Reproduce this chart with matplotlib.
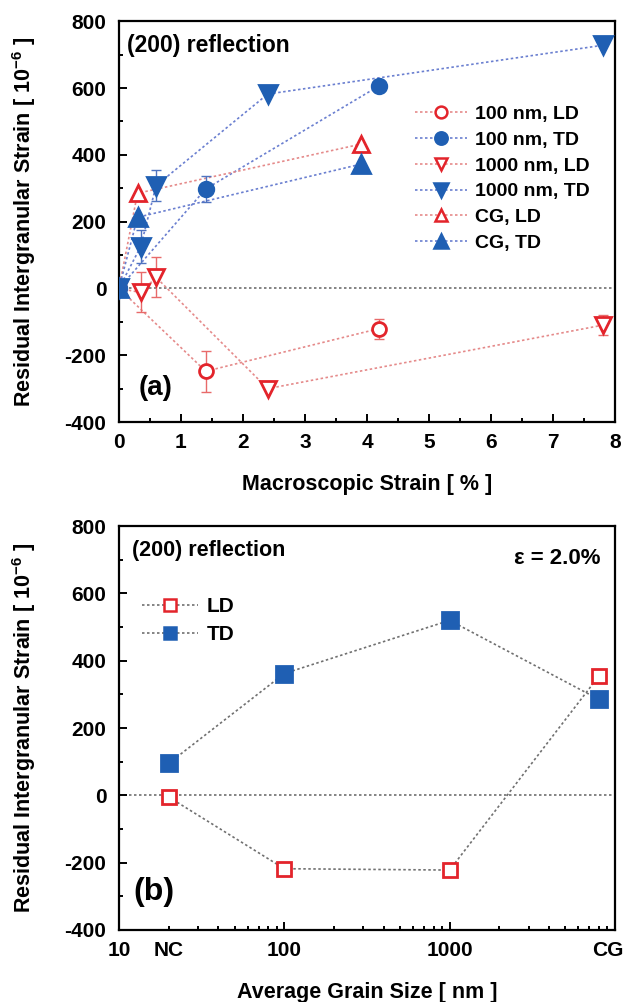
import numpy as np
import matplotlib
matplotlib.use("Agg")
import matplotlib.pyplot as plt
from matplotlib.ticker import MultipleLocator, FixedLocator, NullFormatter, LogLocator

plt.rcParams['font.family'] = ['Liberation Sans', 'DejaVu Sans']
plt.rcParams['font.weight'] = 'bold'
plt.rcParams['mathtext.fontset'] = 'custom'
plt.rcParams['mathtext.rm'] = 'Liberation Sans:bold'
plt.rcParams['mathtext.default'] = 'rm'
plt.rcParams['axes.unicode_minus'] = False

# ---------------- Panel (a) data ----------------
strain_100_ld = [0, 1.4, 4.2]
resid_100_ld = [0, -248, -120]
err_100_ld = [0, 62, 30]

strain_100_td = [0, 1.4, 4.2]
resid_100_td = [0, 298, 607]
err_100_td = [0, 38, 0]

strain_1000_ld = [0, 0.35, 0.6, 2.4, 7.8]
resid_1000_ld = [0, -12, 33, -300, -110]
err_1000_ld = [0, 60, 60, 0, 30]

strain_1000_td = [0, 0.35, 0.6, 2.4, 7.8]
resid_1000_td = [0, 125, 308, 582, 728]
err_1000_td = [0, 50, 47, 0, 0]

strain_cg_ld = [0, 0.3, 3.9]
resid_cg_ld = [0, 285, 432]

strain_cg_td = [0, 0.3, 3.9]
resid_cg_td = [0, 213, 372]

# ---------------- Panel (b) data ----------------
grain_size = [20, 100, 1000, 8000]
resid_b_ld = [-5, -218, -222, 355]
resid_b_td = [95, 362, 520, 285]
b_tick_pos = [10, 20, 100, 1000, 9000]
b_tick_labels = ['10', 'NC', '100', '1000', 'CG']

RED = '#e3242b'
BLUE = '#1f5fb3'
RED_LINE = '#e58a8a'
BLUE_LINE = '#6a7fd0'
RED_ERR = '#e86a6a'
BLUE_ERR = '#4f73c0'
GREY = '#707070'

TICK_FS = 15
LABEL_FS = 15.5

fig = plt.figure(figsize=(6.36, 10.02), dpi=100)
axa = fig.add_axes([0.187, 0.5788, 0.780, 0.400])
axb = fig.add_axes([0.187, 0.0719, 0.780, 0.403])

def style_axes(ax):
    for s in ax.spines.values():
        s.set_linewidth(1.6)
    ax.tick_params(which='both', direction='in', top=False, right=False, width=1.4,
                   labelsize=TICK_FS)
    ax.tick_params(which='major', length=6)
    ax.tick_params(which='minor', length=3)
    ax.tick_params(axis='x', pad=8)
    ax.tick_params(axis='y', pad=9)

def draw_series(ax, x, y, err, marker, mcolor, lcolor, ecolor, filled, label, ms):
    ax.plot(x, y, linestyle=(0, (1.5, 1.5)), color=lcolor, linewidth=1.2, zorder=2)
    if err is not None:
        idx = [i for i, e in enumerate(err) if e > 0]
        if idx:
            ax.errorbar([x[i] for i in idx], [y[i] for i in idx], yerr=[err[i] for i in idx],
                        fmt='none', ecolor=ecolor, elinewidth=1.0, capsize=3.5, capthick=1.0,
                        zorder=3)
    fc = mcolor if filled else 'white'
    ax.plot(x, y, linestyle='none', marker=marker, markersize=ms, markerfacecolor=fc,
            markeredgecolor=mcolor, markeredgewidth=2.0, zorder=4)
    h, = ax.plot([], [], linestyle=(0, (1.5, 1.5)), color=lcolor, linewidth=1.2,
                 marker=marker, markersize=ms * 0.85, markerfacecolor=fc,
                 markeredgecolor=mcolor, markeredgewidth=1.8, label=label)
    return h

# ---------------- Panel (a) ----------------
style_axes(axa)
axa.axhline(0, color=GREY, linestyle=(0, (1.5, 1.5)), linewidth=1.2, zorder=1)
handles = []
handles.append(draw_series(axa, strain_100_ld, resid_100_ld, err_100_ld, 'o', RED, RED_LINE, RED_ERR, False, '100 nm, LD', 10))
handles.append(draw_series(axa, strain_100_td, resid_100_td, err_100_td, 'o', BLUE, BLUE_LINE, BLUE_ERR, True, '100 nm, TD', 10.5))
handles.append(draw_series(axa, strain_1000_ld, resid_1000_ld, err_1000_ld, 'v', RED, RED_LINE, RED_ERR, False, '1000 nm, LD', 11))
handles.append(draw_series(axa, strain_1000_td, resid_1000_td, err_1000_td, 'v', BLUE, BLUE_LINE, BLUE_ERR, True, '1000 nm, TD', 12.5))
handles.append(draw_series(axa, strain_cg_ld, resid_cg_ld, None, '^', RED, RED_LINE, RED_ERR, False, 'CG, LD', 11))
handles.append(draw_series(axa, strain_cg_td, resid_cg_td, None, '^', BLUE, BLUE_LINE, BLUE_ERR, True, 'CG, TD', 12.5))

axa.set_xlim(0, 8)
axa.set_ylim(-400, 800)
axa.xaxis.set_major_locator(MultipleLocator(1))
axa.xaxis.set_minor_locator(MultipleLocator(0.5))
axa.yaxis.set_major_locator(MultipleLocator(200))
axa.yaxis.set_minor_locator(MultipleLocator(100))
axa.set_xlabel('Macroscopic Strain [ % ]', fontsize=LABEL_FS, fontweight='bold')
axa.xaxis.set_label_coords(0.5, -0.13)
axa.set_ylabel('Residual Intergranular Strain [ 10$^{-6}$ ]', fontsize=LABEL_FS, fontweight='bold')
axa.yaxis.set_label_coords(-0.163, 0.5)
axa.text(0.016, 0.94, '(200) reflection', transform=axa.transAxes, fontsize=16.5,
         fontweight='bold', ha='left', va='center')
axa.text(0.04, 0.085, '(a)', transform=axa.transAxes, fontsize=20,
         fontweight='bold', ha='left', va='center')
axa.legend(handles=handles, loc='upper left', bbox_to_anchor=(0.596, 0.79),
           frameon=False, fontsize=14, handlelength=2.7, handletextpad=0.42,
           labelspacing=0.42, borderaxespad=0, borderpad=0, numpoints=1)

# ---------------- Panel (b) ----------------
style_axes(axb)
axb.axhline(0, color=GREY, linestyle=(0, (1.5, 1.5)), linewidth=1.2, zorder=1)
axb.set_xscale('log')
hb = []
hb.append(draw_series(axb, grain_size, resid_b_ld, None, 's', RED, GREY, RED, False, 'LD', 10))
hb.append(draw_series(axb, grain_size, resid_b_td, None, 's', BLUE, GREY, BLUE, True, 'TD', 11))
axb.set_xlim(10, 10000)
axb.set_ylim(-400, 800)
axb.xaxis.set_major_locator(FixedLocator(b_tick_pos))
axb.set_xticklabels(b_tick_labels)
axb.xaxis.set_minor_locator(LogLocator(base=10, subs=np.arange(2, 10), numticks=20))
axb.xaxis.set_minor_formatter(NullFormatter())
axb.yaxis.set_major_locator(MultipleLocator(200))
axb.yaxis.set_minor_locator(MultipleLocator(100))
axb.tick_params(axis='x', which='major', length=3)
for t, lab in zip(axb.xaxis.get_major_ticks(), b_tick_labels):
    if lab in ('100', '1000'):
        t.tick1line.set_markersize(6)
axb.set_xlabel('Average Grain Size [ nm ]', fontsize=LABEL_FS, fontweight='bold')
axb.xaxis.set_label_coords(0.5, -0.128)
axb.set_ylabel('Residual Intergranular Strain [ 10$^{-6}$ ]', fontsize=LABEL_FS, fontweight='bold')
axb.yaxis.set_label_coords(-0.163, 0.5)
axb.text(0.027, 0.94, '(200) reflection', transform=axb.transAxes, fontsize=15.5,
         fontweight='bold', ha='left', va='center')
axb.text(0.97, 0.92, 'ε = 2.0%', transform=axb.transAxes, fontsize=16,
         fontweight='bold', ha='right', va='center')
axb.text(0.03, 0.094, '(b)', transform=axb.transAxes, fontsize=23,
         fontweight='bold', ha='left', va='center')
axb.legend(handles=hb, loc='upper left', bbox_to_anchor=(0.046, 0.825),
           frameon=False, fontsize=15, handlelength=2.7, handletextpad=0.43,
           labelspacing=0.45, borderaxespad=0, borderpad=0, numpoints=1)

fig.savefig('out.png', dpi=100)
